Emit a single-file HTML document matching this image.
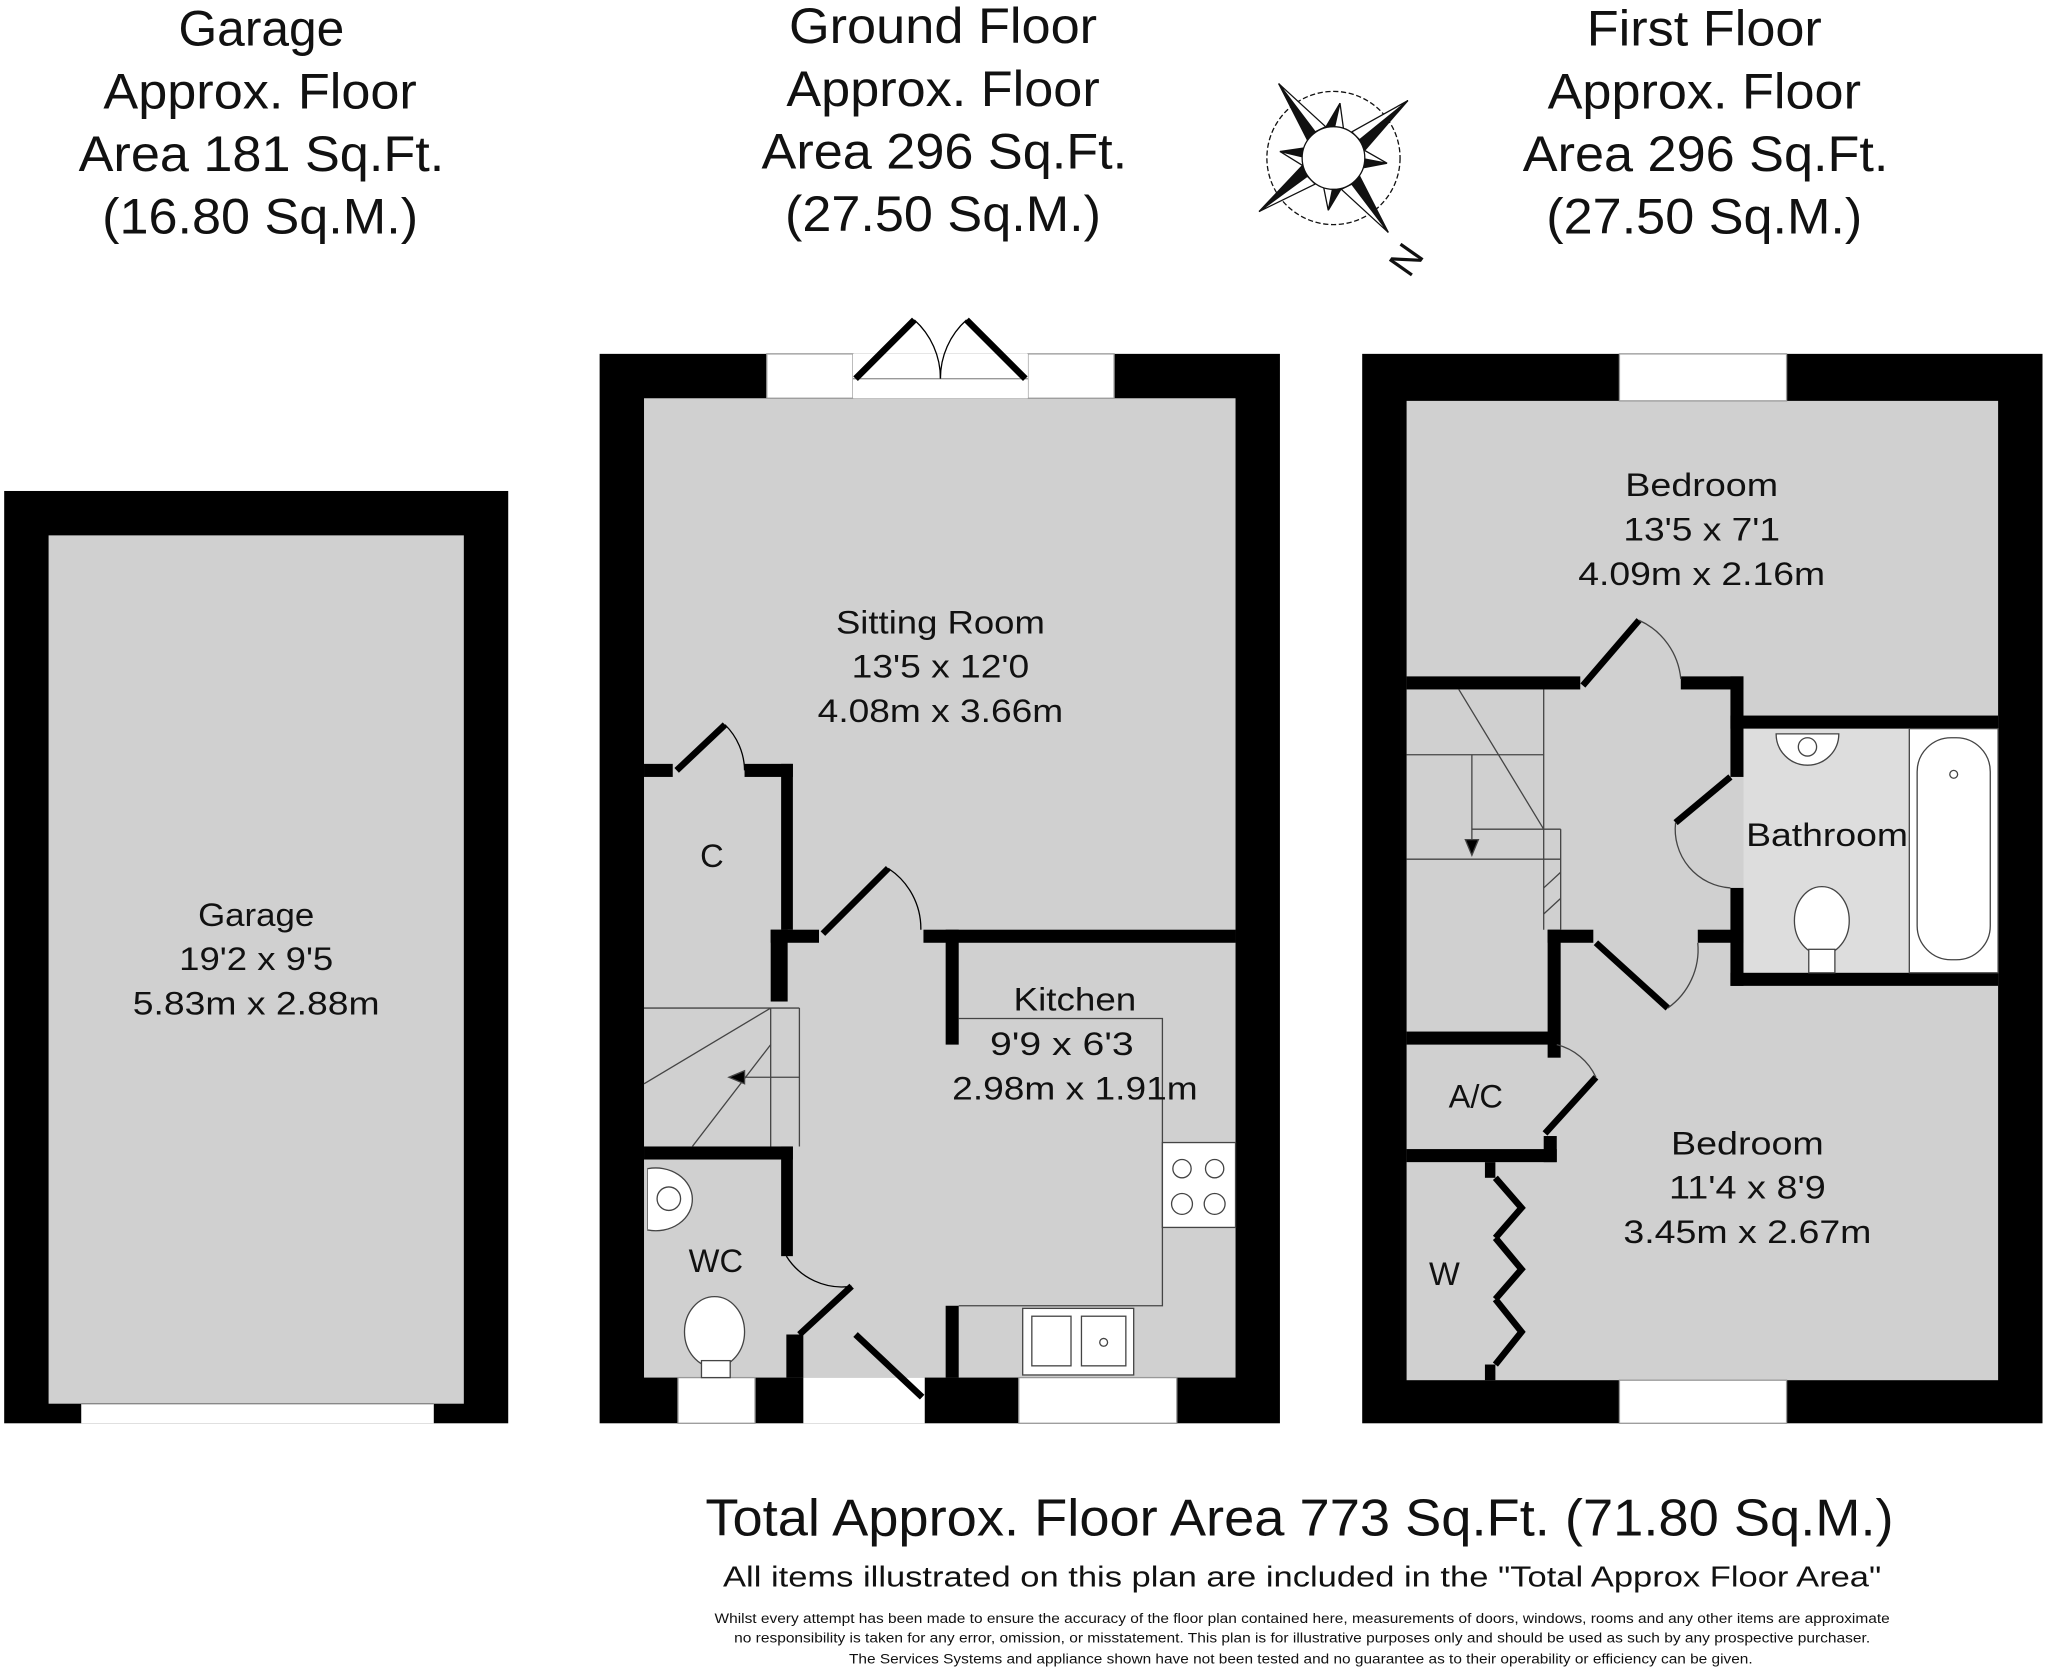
<!DOCTYPE html>
<html><head><meta charset="utf-8"><style>
html,body{margin:0;padding:0;background:#fff}
svg{display:block}
text{font-family:"Liberation Sans",Arial,sans-serif;fill:#111}
.r{font-family:"DejaVu Sans","Liberation Sans",sans-serif;font-size:25px}
</style></head><body>
<svg width="2048" height="1674" viewBox="0 0 1568 1282" xmlns="http://www.w3.org/2000/svg">
<rect width="1568" height="1282" fill="#fff"/>
<g font-size="38" text-anchor="middle" lengthAdjust="spacingAndGlyphs">
<text x="200" y="35" textLength="127" lengthAdjust="spacingAndGlyphs">Garage</text><text x="199" y="83" textLength="240" lengthAdjust="spacingAndGlyphs">Approx. Floor</text><text x="200" y="131" textLength="280" lengthAdjust="spacingAndGlyphs">Area 181 Sq.Ft.</text><text x="199" y="179" textLength="242" lengthAdjust="spacingAndGlyphs">(16.80 Sq.M.)</text>
<text x="722" y="33" textLength="236" lengthAdjust="spacingAndGlyphs">Ground Floor</text><text x="722" y="81" textLength="240" lengthAdjust="spacingAndGlyphs">Approx. Floor</text><text x="723" y="129" textLength="280" lengthAdjust="spacingAndGlyphs">Area 296 Sq.Ft.</text><text x="722" y="177" textLength="242" lengthAdjust="spacingAndGlyphs">(27.50 Sq.M.)</text>
<text x="1305" y="35" textLength="180" lengthAdjust="spacingAndGlyphs">First Floor</text><text x="1305" y="83" textLength="240" lengthAdjust="spacingAndGlyphs">Approx. Floor</text><text x="1306" y="131" textLength="280" lengthAdjust="spacingAndGlyphs">Area 296 Sq.Ft.</text><text x="1305" y="179" textLength="242" lengthAdjust="spacingAndGlyphs">(27.50 Sq.M.)</text>
</g>
<!-- compass -->
<g transform="translate(1021,121)" stroke="#111" stroke-width="1">
<circle r="51" fill="none" stroke-dasharray="4,2"/>
<polygon points="-42,-57 -14,-20 -20,-14" fill="#111"/><polygon points="-42,-57 -14,-20 -6,-24" fill="#fff"/>
<polygon points="57,-44 20,-14 24,-6" fill="#111"/><polygon points="57,-44 20,-14 14,-20" fill="#fff"/>
<polygon points="-57,41 -20,14 -24,6" fill="#111"/><polygon points="-57,41 -20,14 -14,20" fill="#fff"/>
<polygon points="42,57 14,20 20,14" fill="#111"/><polygon points="42,57 14,20 6,24" fill="#fff"/>
<polygon points="5,-42 -8,-20 0,-20" fill="#111"/><polygon points="5,-42 8,-20 0,-20" fill="#fff"/>
<polygon points="41,4 20,8 20,0" fill="#111"/><polygon points="41,4 20,-8 20,0" fill="#fff"/>
<polygon points="-4,40 8,20 0,20" fill="#111"/><polygon points="-4,40 -8,20 0,20" fill="#fff"/>
<polygon points="-41,-5 -20,-8 -20,0" fill="#111"/><polygon points="-41,-5 -20,8 -20,0" fill="#fff"/>
<circle r="24" fill="#fff"/>
<text x="56" y="88" font-size="30" stroke="none" transform="rotate(-55 56 78)" text-anchor="middle">N</text>
</g>
<!-- garage -->
<rect x="3" y="376" width="386" height="714" fill="#000"/>
<rect x="37" y="410" width="318" height="665" fill="#d0d0d0"/>
<rect x="62" y="1075" width="270" height="15" fill="#fff"/>
<line x1="62" y1="1075" x2="332" y2="1075" stroke="#888"/>
<g class="r" text-anchor="middle"><text x="196" y="709" textLength="89" lengthAdjust="spacingAndGlyphs">Garage</text><text x="196" y="743" textLength="118" lengthAdjust="spacingAndGlyphs">19'2 x 9'5</text><text x="196" y="777" textLength="189" lengthAdjust="spacingAndGlyphs">5.83m x 2.88m</text></g>
<!-- ground floor -->
<rect x="459" y="271" width="521" height="819" fill="#000"/>
<rect x="493" y="305" width="453" height="750" fill="#d0d0d0"/>
<g fill="#fff" stroke="#999">
<rect x="587" y="271" width="66" height="34"/><rect x="787" y="271" width="66" height="34"/>
<rect x="519" y="1055" width="59" height="35"/><rect x="780" y="1055" width="121" height="35"/>
</g>
<rect x="653" y="271" width="134" height="34" fill="#fff"/>
<rect x="615" y="1055" width="93" height="35" fill="#fff"/>
<line x1="653" y1="290" x2="787" y2="290" stroke="#999"/>
<g stroke="#000" stroke-width="5" fill="none">
<line x1="655" y1="290" x2="700" y2="245"/><line x1="785" y1="290" x2="740" y2="245"/>
<line x1="612" y1="1022" x2="652" y2="985"/><line x1="655" y1="1022" x2="706" y2="1070"/>
<line x1="518" y1="590" x2="555" y2="555"/><line x1="630" y1="715" x2="680" y2="665"/>
</g>
<g stroke="#000" stroke-width="1" fill="none">
<path d="M555 555 A50 50 0 0 1 570 590"/><path d="M680 665 A55 55 0 0 1 705 712"/>
<path d="M700 245 A60 60 0 0 1 720 290"/><path d="M740 245 A60 60 0 0 0 720 290"/>
<path d="M652 985 A50 50 0 0 1 602 962"/>
</g>
<g fill="#000">
<rect x="493" y="585" width="22" height="10"/><rect x="570" y="585" width="37" height="10"/>
<rect x="598" y="585" width="9" height="127"/><rect x="590" y="712" width="37" height="10"/>
<rect x="590" y="712" width="13" height="55"/>
<rect x="707" y="712" width="239" height="10"/><rect x="724" y="712" width="10" height="88"/>
<rect x="493" y="878" width="114" height="10"/><rect x="598" y="878" width="9" height="84"/>
<rect x="602" y="1022" width="13" height="33"/><rect x="724" y="1000" width="10" height="55"/>
</g>
<g stroke="#444" stroke-width="1" fill="none">
<polyline points="734,780 890,780 890,1000 734,1000"/>
<line x1="493" y1="772" x2="612" y2="772"/><line x1="590" y1="772" x2="590" y2="878"/>
<line x1="612" y1="772" x2="612" y2="878"/>
<line x1="493" y1="830" x2="590" y2="772"/><line x1="530" y1="878" x2="590" y2="800"/>
<line x1="565" y1="825" x2="612" y2="825"/><polygon points="558,825 570,820 570,830" fill="#000"/>
<rect x="890" y="875" width="56" height="65" fill="#fff"/>
<circle cx="905" cy="895" r="7"/><circle cx="930" cy="895" r="7"/><circle cx="905" cy="922" r="8"/><circle cx="930" cy="922" r="8"/>
<rect x="783" y="1002" width="85" height="51" fill="#fff"/><rect x="790" y="1008" width="30" height="38"/><rect x="828" y="1008" width="34" height="38"/><circle cx="845" cy="1028" r="3"/>
<path d="M496 895 L496 942 A24 24 0 0 0 496 895 Z" fill="#fff"/><path d="M496 895 A28 24 0 0 1 530 918 A28 24 0 0 1 496 942" fill="#fff"/><circle cx="512" cy="918" r="9"/>
<ellipse cx="547" cy="1020" rx="23" ry="27" fill="#fff"/><rect x="537" y="1042" width="22" height="13" fill="#fff"/>
</g>
<g class="r" text-anchor="middle">
<text x="720" y="485" textLength="160" lengthAdjust="spacingAndGlyphs">Sitting Room</text><text x="720" y="519" textLength="136" lengthAdjust="spacingAndGlyphs">13'5 x 12'0</text><text x="720" y="553" textLength="188" lengthAdjust="spacingAndGlyphs">4.08m x 3.66m</text>
<text x="545" y="664">C</text>
<text x="823" y="774" textLength="94" lengthAdjust="spacingAndGlyphs">Kitchen</text><text x="813" y="808" textLength="110" lengthAdjust="spacingAndGlyphs">9'9 x 6'3</text><text x="823" y="842" textLength="188" lengthAdjust="spacingAndGlyphs">2.98m x 1.91m</text>
<text x="548" y="974">WC</text>
</g>
<!-- first floor -->
<rect x="1043" y="271" width="521" height="819" fill="#000"/>
<rect x="1077" y="307" width="453" height="750" fill="#d0d0d0"/>
<g fill="#fff" stroke="#999"><rect x="1240" y="271" width="128" height="36"/><rect x="1240" y="1057" width="128" height="33"/></g>
<rect x="1335" y="558" width="195" height="187" fill="#ddd"/>
<g fill="#000">
<rect x="1077" y="518" width="133" height="10"/><rect x="1287" y="518" width="48" height="10"/>
<rect x="1325" y="518" width="10" height="77"/><rect x="1325" y="548" width="205" height="10"/>
<rect x="1325" y="680" width="10" height="75"/><rect x="1325" y="745" width="205" height="10"/>
<rect x="1300" y="712" width="35" height="10"/><rect x="1185" y="712" width="35" height="10"/>
<rect x="1185" y="712" width="10" height="98"/><rect x="1077" y="790" width="115" height="10"/>
<rect x="1182" y="870" width="10" height="20"/><rect x="1077" y="880" width="115" height="10"/>
<rect x="1137" y="890" width="8" height="12"/><rect x="1137" y="1045" width="8" height="12"/>
</g>
<g stroke="#000" stroke-width="5" fill="none">
<line x1="1212" y1="525" x2="1255" y2="475"/><line x1="1283" y1="630" x2="1325" y2="595"/>
<line x1="1222" y1="722" x2="1277" y2="772"/><line x1="1183" y1="868" x2="1222" y2="825"/>
<polyline points="1145,902 1165,925 1145,948"/><polyline points="1145,948 1165,972 1145,995"/><polyline points="1145,995 1165,1020 1145,1045"/>
</g>
<g stroke="#444" stroke-width="1" fill="none">
<path d="M1255 475 A55 55 0 0 1 1287 520"/><path d="M1283 630 A45 45 0 0 0 1325 680"/>
<path d="M1277 772 A55 55 0 0 0 1300 722"/><path d="M1222 825 A45 45 0 0 0 1192 800"/>
<line x1="1077" y1="578" x2="1182" y2="578"/><line x1="1077" y1="658" x2="1195" y2="658"/>
<line x1="1182" y1="528" x2="1182" y2="712"/><line x1="1195" y1="635" x2="1195" y2="712"/>
<line x1="1117" y1="528" x2="1182" y2="635"/><line x1="1127" y1="578" x2="1127" y2="650"/>
<line x1="1127" y1="635" x2="1195" y2="635"/><polygon points="1127,655 1122,643 1132,643" fill="#000"/>
<line x1="1182" y1="680" x2="1195" y2="668"/><line x1="1182" y1="700" x2="1195" y2="688"/>
<rect x="1462" y="558" width="68" height="187" fill="#fff"/><rect x="1468" y="565" width="56" height="170" rx="26"/>
<circle cx="1496" cy="593" r="3"/>
<path d="M1360 562 L1408 562 A24 24 0 0 1 1360 562 Z" fill="#fff"/><circle cx="1384" cy="572" r="7"/>
<ellipse cx="1395" cy="705" rx="21" ry="26" fill="#fff"/><rect x="1385" y="727" width="20" height="18" fill="#fff"/>
</g>
<g class="r" text-anchor="middle">
<text x="1303" y="380" textLength="117" lengthAdjust="spacingAndGlyphs">Bedroom</text><text x="1303" y="414" textLength="120" lengthAdjust="spacingAndGlyphs">13'5 x 7'1</text><text x="1303" y="448" textLength="189" lengthAdjust="spacingAndGlyphs">4.09m x 2.16m</text>
<text x="1399" y="648" textLength="124" lengthAdjust="spacingAndGlyphs">Bathroom</text>
<text x="1130" y="848">A/C</text>
<text x="1338" y="884" textLength="117" lengthAdjust="spacingAndGlyphs">Bedroom</text><text x="1338" y="918" textLength="120" lengthAdjust="spacingAndGlyphs">11'4 x 8'9</text><text x="1338" y="952" textLength="190" lengthAdjust="spacingAndGlyphs">3.45m x 2.67m</text>
<text x="1106" y="984">W</text>
</g>
<!-- footer -->
<g text-anchor="middle">
<text x="995" y="1176" font-size="40" textLength="910" lengthAdjust="spacingAndGlyphs">Total Approx. Floor Area 773 Sq.Ft. (71.80 Sq.M.)</text>
<text x="997" y="1215" font-size="22" textLength="887" lengthAdjust="spacingAndGlyphs">All items illustrated on this plan are included in the "Total Approx Floor Area"</text>
<text x="997" y="1243" font-size="10.5" textLength="900" lengthAdjust="spacingAndGlyphs">Whilst every attempt has been made to ensure the accuracy of the floor plan contained here, measurements of doors, windows, rooms and any other items are approximate</text>
<text x="997" y="1258" font-size="10.5" textLength="870" lengthAdjust="spacingAndGlyphs">no responsibility is taken for any error, omission, or misstatement. This plan is for illustrative purposes only and should be used as such by any prospective purchaser.</text>
<text x="996" y="1274" font-size="10.5" textLength="692" lengthAdjust="spacingAndGlyphs">The Services Systems and appliance shown have not been tested and no guarantee as to their operability or efficiency can be given.</text>
</g>
</svg>
</body></html>
